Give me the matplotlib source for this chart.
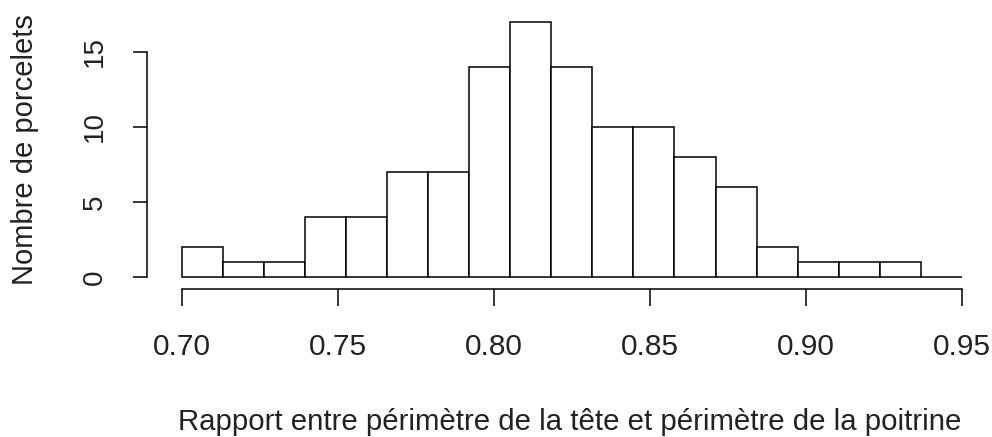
import numpy as np
import matplotlib
matplotlib.use("Agg")
import matplotlib.pyplot as plt

# histogram counts per bin (breaks from 0.70 to 0.95, 19 bins)
counts = [2, 1, 1, 4, 4, 7, 7, 14, 17, 14, 10, 10, 8, 6, 2, 1, 1, 1, 0]
bin_start = 0.70
bin_end = 0.95
x_ticks = [0.70, 0.75, 0.80, 0.85, 0.90, 0.95]
x_ticklabels = ["0.70", "0.75", "0.80", "0.85", "0.90", "0.95"]
y_ticks = [0, 5, 10, 15]
xlab = "Rapport entre périmètre de la tête et périmètre de la poitrine"
ylab = "Nombre de porcelets"

plt.rcParams["font.family"] = ["Liberation Sans", "DejaVu Sans"]

W, H = 992, 437
fig = plt.figure(figsize=(W / 100, H / 100), dpi=100)

# plot region in pixels
left_px, right_px, top_px, bottom_px = 147, 992, 10, 289.3
ax = fig.add_axes([left_px / W, 1 - bottom_px / H,
                   (right_px - left_px) / W, (bottom_px - top_px) / H])

edges = np.linspace(bin_start, bin_end, len(counts) + 1)
ax.bar(edges[:-1], counts, width=np.diff(edges), align="edge",
       facecolor="white", edgecolor="black", linewidth=1.1)

ax.set_xlim(0.68888, 0.68888 + (right_px - left_px) / 3121)
ax.set_ylim(-0.798, -0.798 + (bottom_px - top_px) / 15.04)

for s in ["top", "right"]:
    ax.spines[s].set_visible(False)
ax.spines["left"].set_bounds(0, 15)
ax.spines["bottom"].set_bounds(0.70, 0.95)
ax.spines["left"].set_linewidth(1.1)
ax.spines["bottom"].set_linewidth(1.1)

ax.set_xticks(x_ticks)
ax.set_xticklabels(x_ticklabels)
ax.set_yticks(y_ticks)
ax.tick_params(axis="x", direction="out", length=12.2, width=1.1,
               pad=19.5, labelsize=21.5, colors="black", labelcolor="#222222")
ax.tick_params(axis="y", direction="out", length=9.9, width=1.1,
               pad=18.6, labelsize=20, labelrotation=90, labelcolor="#222222")
for t in ax.get_yticklabels():
    t.set_va("center")

ax.set_xlabel(xlab, fontsize=21.2, color="#222222")
ax.xaxis.label.set_va("baseline")
ax.xaxis.set_label_coords(0.5 + (569.5 - (left_px + right_px) / 2) / (right_px - left_px),
                          (bottom_px - 430) / (bottom_px - top_px))
ax.set_ylabel(ylab, fontsize=21, color="#222222")
ax.yaxis.label.set_va("baseline")
ax.yaxis.set_label_coords((33 - left_px) / (right_px - left_px), 0.5)

fig.savefig("out.png", dpi=100)
